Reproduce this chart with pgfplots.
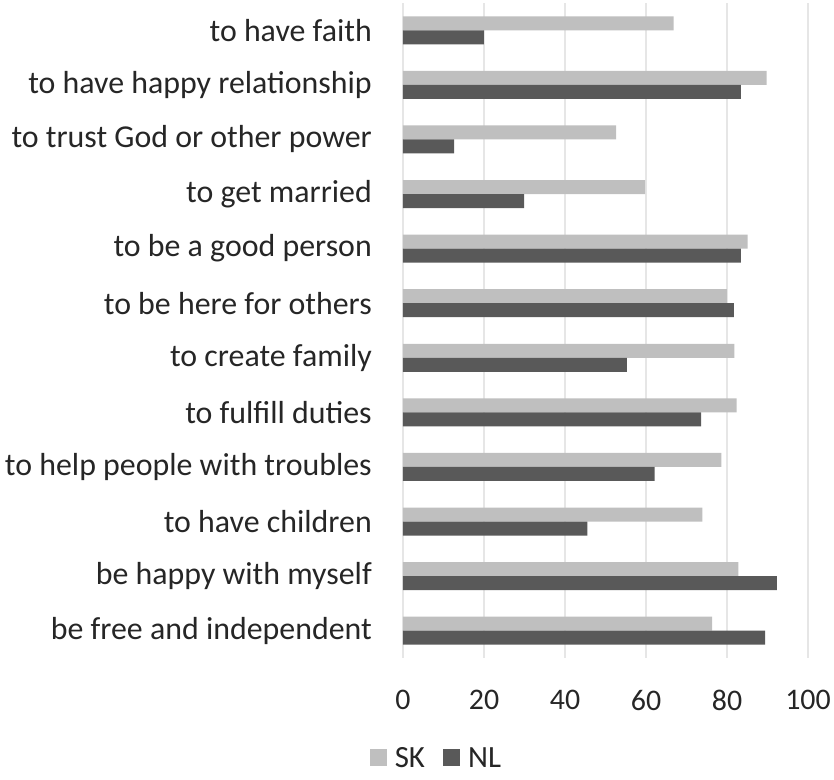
\documentclass[border=0pt]{standalone}
\usepackage{fontspec}
\setmainfont{Carlito}
\usepackage{pgfplots}
\usepackage{pgfplotstable}
\pgfplotsset{compat=1.18}

\definecolor{sk}{HTML}{BFBFBF}
\definecolor{nl}{HTML}{595959}
\definecolor{gridc}{HTML}{E6E6E6}
\definecolor{txt}{HTML}{262626}

% y = 0 is the bottom category (be free and independent)
\pgfplotstableread{
y SK NL
0 76.3 89.4
1 82.8 92.3
2 73.9 45.5
3 78.6 62.1
4 82.4 73.6
5 81.8 55.3
6 80.0 81.7
7 85.1 83.4
8 59.8 29.9
9 52.6 12.6
10 89.8 83.4
11 66.8 20.0
}\datatable

\begin{document}
\begin{tikzpicture}
\begin{axis}[
  scale only axis,
  width=405bp, height=655bp,
  xmin=0, xmax=100, ymin=-0.5, ymax=11.5,
  xtick={0,20,...,100},
  ytick={0,...,11},
  yticklabels={be free and independent, be happy with myself, to have children, to help people with troubles, to fulfill duties, to create family, to be here for others, to be a good person, to get married, to trust God or other power, to have happy relationship, to have faith},
  axis line style={draw=none},
  major tick length=0pt,
  xmajorgrids,
  grid style={gridc, line width=1.2bp},
  /pgf/number format/assume math mode=true,
  yticklabel style={font=\fontsize{32}{38}\selectfont, text=txt, inner sep=0pt, xshift=-31bp},
  xticklabel style={font=\fontsize{30}{36}\selectfont, text=txt, inner sep=0pt, yshift=-32bp},
  xbar,
  bar width=14bp,
  legend columns=2,
  legend style={draw=none, fill=none, at={(axis description cs:0.08,-0.152)}, anchor=center,
    font=\fontsize{31}{37}\selectfont, text=txt,
    /tikz/every even column/.append style={column sep=18bp},
    nodes={inner sep=0pt, text depth=0pt}},
  legend image code/.code={\fill[#1] (0bp,-8.5bp) rectangle (17bp,8.5bp);},
  legend style={/tikz/every odd column/.append style={column sep=8bp}},
]
\addplot[fill=sk, draw=none, bar shift=7bp] table[x=SK, y=y] {\datatable};
\addlegendentry{SK}
\addplot[fill=nl, draw=none, bar shift=-7bp] table[x=NL, y=y] {\datatable};
\addlegendentry{NL}
\end{axis}
\path[use as bounding box] ([xshift=-403bp,yshift=-122bp]current axis.south west) rectangle ([xshift=26bp,yshift=3bp]current axis.north east);
\end{tikzpicture}
\end{document}
